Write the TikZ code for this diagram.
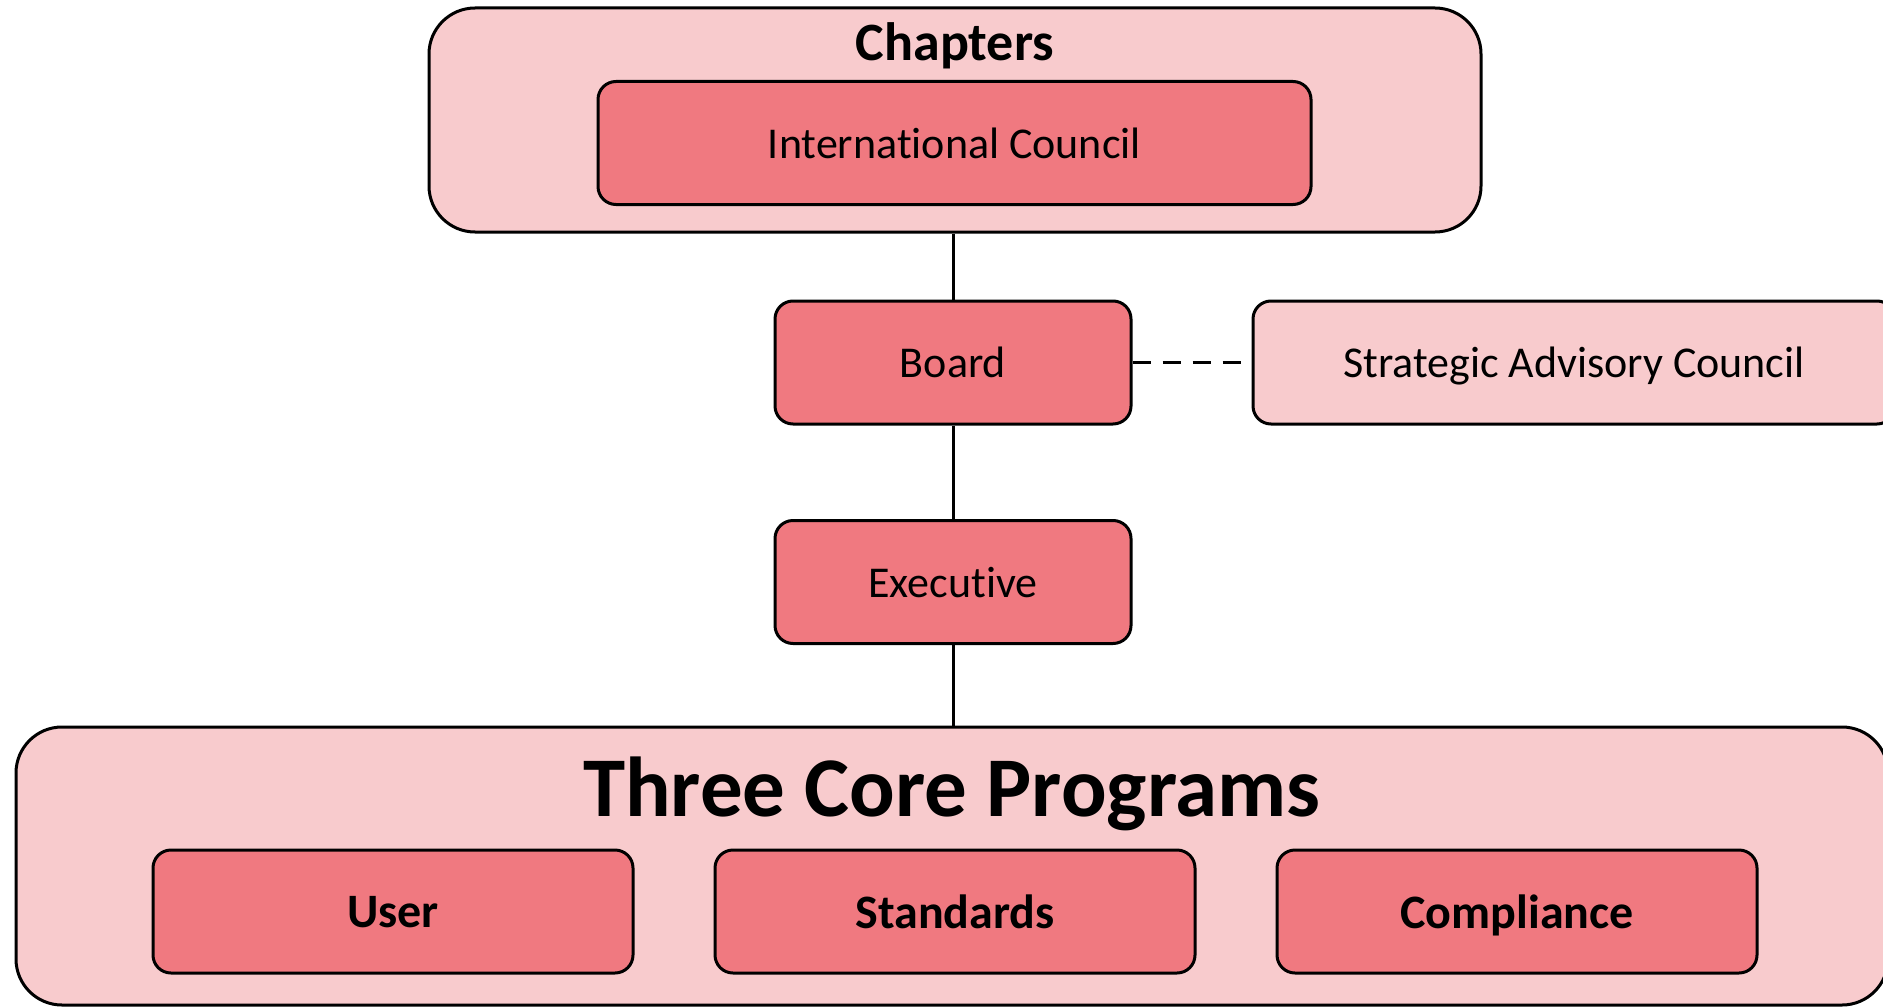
\documentclass[tikz,border=0pt]{standalone}
\usepackage[RGB]{xcolor}
\usepackage{fontspec}
\setmainfont{Carlito}[Ligatures=NoCommon]
\usepackage{tikz}
\definecolor{pale}{RGB}{248,203,205}
\definecolor{rose}{RGB}{240,121,128}
\newcommand{\drawthick}{\draw[line width=1.5pt]}
\tikzset{
  group/.style={draw,line width=1.5pt,fill=pale,rounded corners=23pt,inner sep=0pt},
  unit/.style={draw,line width=1.5pt,fill=rose,rounded corners=9pt,inner sep=0pt,
    minimum height=61.5pt,text depth=0pt,font=\fontsize{22}{26}\selectfont},
  side/.style={unit,fill=pale},
  core/.style={unit,minimum width=240pt,font=\fontsize{24}{28}\selectfont\bfseries}
}

\begin{document}
\begin{tikzpicture}[x=0.5pt,y=-0.5pt]
\clip (0,0) rectangle (1883,1006);
\node[group,minimum width=526pt,minimum height=112pt] (chapters) at (955,120) {};
\node[font=\fontsize{27}{30}\selectfont\bfseries] (chaptitle) at (955,46) {Chapters};
\node[unit,minimum width=356.5pt] (council) at (954.5,143) {International Council};
\node[unit,minimum width=178pt] (board) at (953,362.5) {Board};
\node[side,minimum width=321pt] (advisory) at (1574,362.5) {Strategic Advisory Council};
\node[unit,minimum width=178pt] (exec) at (953,582) {Executive};
\node[group,minimum width=936pt,minimum height=139pt] (programs) at (952,866) {};
\node[font=\fontsize{42.5}{46}\selectfont\bfseries] (progtitle) at (952,794) {Three Core Programs};
\node[core] (user) at (393,911.5) {User};
\node[core] (standards) at (955,911.5) {Standards};
\node[core] (compliance) at (1517,911.5) {Compliance};
\drawthick (chapters.south -| board.north) -- (board.north);
\drawthick (board) -- (exec);
\drawthick (exec.south) -- (exec.south |- programs.north);
\drawthick[dashed,dash pattern=on 9pt off 6pt] (board) -- (advisory);
\end{tikzpicture}
\end{document}
